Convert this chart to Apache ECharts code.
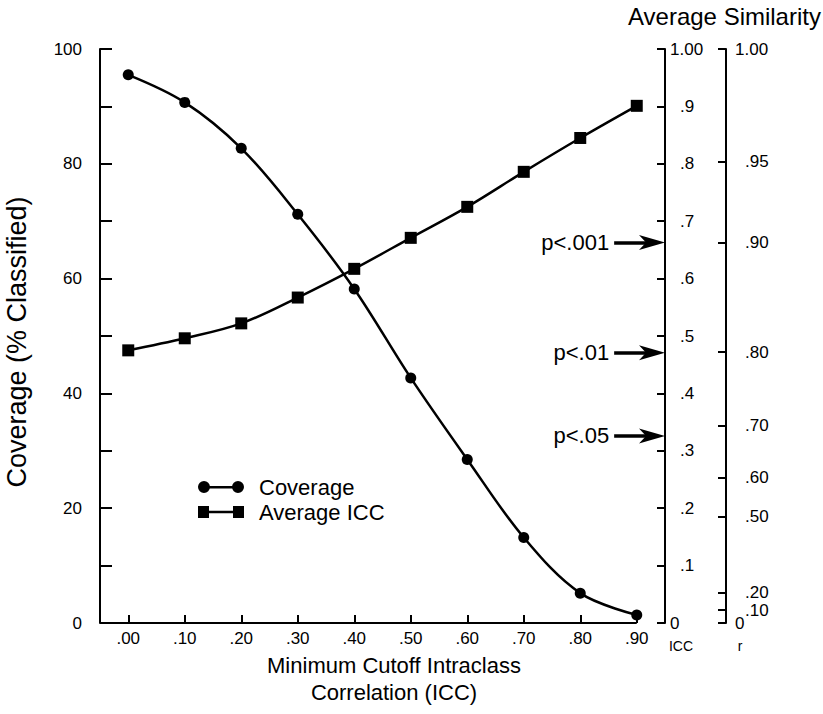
<!DOCTYPE html>
<html>
<head>
<meta charset="utf-8">
<script src="https://cdn.jsdelivr.net/npm/echarts@6/dist/echarts.min.js"></script>
<style>
  html, body { margin: 0; padding: 0; background: #fff; }
  #chart { width: 823px; height: 714px; }
</style>
</head>
<body>
<div id="chart"></div>
<script>
// ---- data ----
const cutoffs = [0, 0.1, 0.2, 0.3, 0.4, 0.5, 0.6, 0.7, 0.8, 0.9];
const xTickLabels = ['.00', '.10', '.20', '.30', '.40', '.50', '.60', '.70', '.80', '.90'];
const coverage = [95.5, 90.7, 82.7, 71.2, 58.2, 42.7, 28.5, 14.9, 5.2, 1.4];
const averageICC = [0.475, 0.496, 0.522, 0.567, 0.617, 0.671, 0.725, 0.786, 0.845, 0.901];
const iccTickLabels = ['0', '.1', '.2', '.3', '.4', '.5', '.6', '.7', '.8', '.9', '1.00'];
const rTickPos = [0, 0.0226, 0.0527, 0.185, 0.253, 0.344, 0.472, 0.663, 0.804, 1.0];
const rTickLabels = ['0', '.10', '.20', '.50', '.60', '.70', '.80', '.90', '.95', '1.00'];
const pLabels = ['p<.001', 'p<.01', 'p<.05'];
const pICC = [0.663, 0.471, 0.326];
const arrowStartX = 0.86;
const arrowHeadX = 0.927;

const FONT = "'Liberation Sans', Arial, Helvetica, sans-serif";
function nearestIndex(arr, v) {
  let best = 0, d = Infinity;
  arr.forEach((a, i) => { const dd = Math.abs(a - v); if (dd < d) { d = dd; best = i; } });
  return best;
}

const circleIcon = 'path://M0,6 A6,6 0 1,1 12,6 A6,6 0 1,1 0,6 Z M11,5 L35,5 L35,7.4 L11,7.4 Z M34,6 A6,6 0 1,1 46,6 A6,6 0 1,1 34,6 Z';
const squareIcon = 'path://M0,0 L11,0 L11,12 L0,12 Z M11,4.8 L35,4.8 L35,7.2 L11,7.2 Z M35,0 L46,0 L46,12 L35,12 Z';
const arrowHead = 'path://M0,0 L26,7.5 L0,15 L7,7.5 Z';

const chart = echarts.init(document.getElementById('chart'), null, { renderer: 'svg' });
const axisLineStyle = { color: '#000', width: 2 };

const option = {
  animation: false,
  backgroundColor: '#fff',
  textStyle: { fontFamily: FONT, color: '#000' },
  title: {
    text: 'Average Similarity',
    left: 628, top: 4, padding: 0,
    textStyle: { fontFamily: FONT, fontSize: 24, fontWeight: 'normal', color: '#000' }
  },
  grid: { left: 100, right: 158, top: 49, bottom: 91, outerBoundsMode: 'none' },
  legend: {
    left: 193, top: 471, orient: 'vertical', itemGap: 3,
    itemWidth: 46, itemHeight: 12,
    textStyle: { fontFamily: FONT, fontSize: 22, color: '#000', lineHeight: 22, padding: [0, 0, 0, 10] },
    data: [
      { name: 'Coverage', icon: circleIcon },
      { name: 'Average ICC', icon: squareIcon }
    ]
  },
  xAxis: {
    type: 'value', min: -0.05, max: 0.95,
    name: 'Minimum Cutoff Intraclass\nCorrelation (ICC)',
    nameLocation: 'middle', nameGap: 23,
    nameTextStyle: { fontFamily: FONT, fontSize: 22, lineHeight: 27, color: '#000', padding: [0, 0, 0, 23] },
    axisLine: { show: false, onZero: false },
    axisTick: { show: true, inside: true, length: 8, lineStyle: axisLineStyle, customValues: cutoffs },
    axisLabel: {
      show: true, margin: 7, fontSize: 17, color: '#000', fontFamily: FONT,
      customValues: cutoffs,
      formatter: v => xTickLabels[nearestIndex(cutoffs, v)]
    },
    splitLine: { show: false }
  },
  yAxis: [
    {
      type: 'value', min: 0, max: 100, interval: 10, position: 'left',
      name: 'Coverage (% Classified)', nameLocation: 'middle', nameGap: 70, nameRotate: 90,
      nameTextStyle: { fontFamily: FONT, fontSize: 27, color: '#000', padding: [0, 12, 0, 0] },
      axisLine: { show: true, onZero: false, lineStyle: axisLineStyle },
      axisTick: { show: true, inside: true, length: 12, lineStyle: axisLineStyle },
      axisLabel: { margin: 18, fontSize: 17, color: '#000', fontFamily: FONT, formatter: v => (v % 20 === 0 ? String(v) : '') },
      splitLine: { show: false }
    },
    {
      type: 'value', min: 0, max: 1, interval: 0.1, position: 'right', offset: 0,
      name: 'ICC', nameLocation: 'start', nameGap: 16,
      nameTextStyle: { fontFamily: FONT, fontSize: 14, color: '#000', padding: [0, 0, 0, 32] },
      axisLine: { show: true, onZero: false, lineStyle: axisLineStyle },
      axisTick: { show: true, inside: true, length: 8, lineStyle: axisLineStyle },
      axisLabel: {
        margin: 5, color: '#000', fontSize: 17, fontFamily: FONT,
        formatter: v => {
          const i = Math.round(v * 10);
          const lab = iccTickLabels[i];
          return (i === 0 || i === 10) ? '{e|' + lab + '}' : '{m|' + lab + '}';
        },
        rich: {
          e: { fontSize: 17, fontFamily: FONT, color: '#000' },
          m: { fontSize: 17, fontFamily: FONT, color: '#000', padding: [0, 0, 0, 10] }
        }
      },
      splitLine: { show: false }
    },
    {
      type: 'value', min: 0, max: 1, position: 'right', offset: 61,
      name: 'r', nameLocation: 'start', nameGap: 16,
      nameTextStyle: { fontFamily: FONT, fontSize: 14, color: '#000', padding: [0, 0, 0, 28] },
      axisLine: { show: true, onZero: false, lineStyle: axisLineStyle },
      axisTick: { show: true, inside: true, length: 8, lineStyle: axisLineStyle, customValues: rTickPos },
      axisLabel: {
        margin: 9, color: '#000', fontSize: 17, fontFamily: FONT,
        customValues: rTickPos,
        formatter: v => {
          const i = nearestIndex(rTickPos, v);
          const lab = rTickLabels[i];
          return (i === 0 || i === rTickPos.length - 1) ? '{e|' + lab + '}' : '{m|' + lab + '}';
        },
        rich: {
          e: { fontSize: 17, fontFamily: FONT, color: '#000' },
          m: { fontSize: 17, fontFamily: FONT, color: '#000', padding: [0, 0, 0, 10] }
        }
      },
      splitLine: { show: false }
    }
  ],
  series: [
    {
      name: 'Coverage', type: 'line', yAxisIndex: 0, smooth: 0.35,
      symbol: 'circle', symbolSize: 11,
      itemStyle: { color: '#000' },
      lineStyle: { color: '#000', width: 2.5 },
      data: cutoffs.map((c, i) => [c, coverage[i]]),
      markLine: {
        silent: true, symbol: ['none', 'none'], animation: false,
        label: { show: false },
        lineStyle: { color: '#000', width: 2, type: 'solid' },
        data: [[{ coord: [-0.05, 0] }, { coord: [0.9, 0] }]]
      }
    },
    {
      name: 'Average ICC', type: 'line', yAxisIndex: 1, smooth: 0.35,
      symbol: 'rect', symbolSize: 12,
      itemStyle: { color: '#000' },
      lineStyle: { color: '#000', width: 2.5 },
      data: cutoffs.map((c, i) => [c, averageICC[i]]),
      markLine: {
        silent: true, symbol: ['none', 'none'], animation: false,
        lineStyle: { color: '#000', width: 3.5, type: 'solid' },
        label: { show: true, position: 'start', distance: 5, formatter: '{b}', fontSize: 22, fontFamily: FONT, color: '#000' },
        data: pLabels.map((p, i) => [
          { name: p, coord: [arrowStartX, pICC[i]] },
          { coord: [arrowHeadX, pICC[i]] }
        ])
      }
    },
    {
      name: 'significance arrows', type: 'scatter', yAxisIndex: 1, silent: true,
      symbol: arrowHead, symbolSize: [26, 15],
      itemStyle: { color: '#000', opacity: 1 },
      z: 5,
      data: pICC.map(v => [arrowHeadX, v])
    }
  ]
};
chart.setOption(option);
</script>
</body>
</html>
